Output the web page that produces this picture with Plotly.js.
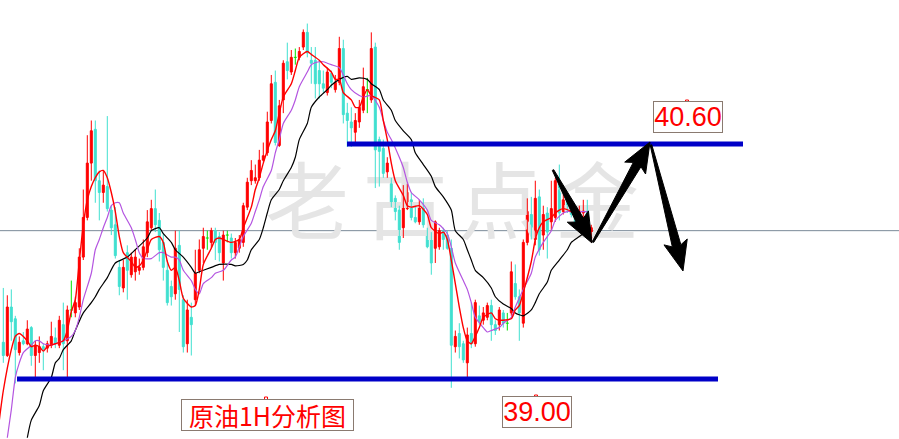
<!DOCTYPE html>
<html>
<head>
<meta charset="utf-8">
<script src="https://cdn.plot.ly/plotly-3.0.1.min.js"></script>
<style>
  html, body { margin: 0; padding: 0; background: #ffffff; }
  #chart { width: 899px; height: 439px; }
</style>
</head>
<body>
<div id="chart"></div>
<script>
// Crude oil, 1-hour bars
const open = [
  39.25,39.16,39.49,39.41,39.18,39.26,39.24,39.35,39.16,39.18,
  39.22,39.21,39.23,39.28,39.23,39.37,39.26,39.47,39.45,39.49,
  39.83,40.10,40.47,40.70,40.35,40.27,40.31,40.15,40.05,39.76,
  39.62,39.86,39.71,39.73,39.74,39.76,39.86,40.03,40.16,40.08,
  39.93,39.74,39.63,39.58,39.91,39.54,39.24,39.42,39.54,39.74,
  39.89,39.96,39.93,40.01,39.97,39.79,39.98,39.96,39.86,39.89,
  39.93,40.17,40.35,40.35,40.37,40.49,40.54,40.76,41.02,40.59,
  40.90,41.16,41.09,41.19,41.19,41.26,41.36,41.17,41.17,41.10,
  41.01,40.95,41.08,40.97,41.02,41.25,40.81,40.75,40.68,40.75,
  40.83,40.97,40.90,41.26,40.63,40.57,40.41,40.33,40.23,40.15,
  40.03,40.16,40.22,40.10,40.07,40.20,39.98,39.98,39.89,39.90,
  40.01,39.98,39.89,39.22,39.31,39.24,39.11,39.31,39.24,39.43,
  39.40,39.42,39.50,39.37,39.37,39.45,39.38,39.45,39.65,39.56,
  39.38,39.93,40.12,39.95,40.24,39.98,40.13,40.07,40.10,40.33,
  40.14,40.22,40.18,40.14,40.08,40.13,40.18,39.96
];
const high = [
  39.62,39.57,39.61,39.43,39.29,39.32,39.40,39.36,39.26,39.29,
  39.24,39.26,39.39,39.35,39.43,39.52,39.50,39.67,39.56,39.89,
  40.29,40.66,40.76,40.76,40.42,40.42,40.79,40.18,40.17,39.81,
  39.81,39.91,39.86,39.88,39.82,39.95,40.15,40.22,40.29,40.13,
  39.99,39.81,39.67,40.01,40.01,39.57,39.54,39.52,39.88,39.95,
  40.03,40.01,40.03,40.03,40.00,40.01,40.01,39.99,39.96,39.98,
  40.20,40.37,40.49,40.46,40.56,40.61,40.82,41.07,41.10,40.90,
  41.17,41.29,41.24,41.25,41.26,41.38,41.42,41.26,41.26,41.17,
  41.10,41.12,41.10,41.07,41.33,41.31,40.88,40.85,40.81,40.90,
  41.12,41.05,41.36,41.29,40.65,40.63,40.51,40.37,40.25,40.18,
  40.32,40.33,40.27,40.18,40.22,40.23,40.03,40.00,40.08,40.03,
  40.03,40.01,39.95,39.33,39.38,39.26,39.35,39.52,39.54,39.50,
  39.49,39.52,39.54,39.40,39.49,39.47,39.45,39.80,39.78,39.61,
  39.95,40.23,40.24,40.35,40.29,40.18,40.17,40.35,40.37,40.46,
  40.27,40.25,40.22,40.16,40.18,40.22,40.22,40.05
];
const low = [
  39.11,39.15,39.26,38.97,39.16,39.23,39.23,39.09,38.99,39.11,
  39.06,39.18,39.21,39.21,39.21,39.06,39.01,39.42,39.42,39.47,
  39.81,40.08,40.35,40.20,40.08,40.20,40.14,39.98,39.82,39.57,
  39.59,39.54,39.69,39.67,39.71,39.74,39.83,40.01,40.00,39.80,
  39.67,39.50,39.50,39.54,39.32,39.18,39.18,39.16,39.50,39.72,
  39.79,39.88,39.89,39.81,39.80,39.67,39.93,39.82,39.82,39.86,
  39.90,40.15,40.32,40.33,40.35,40.48,40.52,40.74,40.59,40.58,
  40.81,41.04,41.07,41.14,41.17,41.24,41.19,41.01,40.91,40.91,
  40.95,40.93,40.98,40.95,41.00,40.74,40.58,40.58,40.61,40.71,
  40.81,40.81,40.88,40.30,40.31,40.37,40.37,40.17,40.08,39.88,
  39.96,40.15,40.08,40.06,40.05,40.03,39.89,39.71,39.79,39.88,
  39.88,39.88,38.94,39.18,39.14,39.11,39.01,39.21,39.22,39.37,
  39.37,39.40,39.26,39.30,39.33,39.35,39.33,39.43,39.54,39.26,
  39.35,39.91,39.95,39.91,39.84,39.88,39.82,40.01,40.07,40.08,
  40.12,40.13,40.10,40.05,40.06,40.03,39.98,39.93
];
const close = [
  39.16,39.49,39.39,39.20,39.25,39.24,39.34,39.16,39.23,39.22,
  39.20,39.24,39.29,39.24,39.40,39.24,39.47,39.47,39.52,39.83,
  40.10,40.47,40.69,40.35,40.27,40.32,40.16,40.03,39.84,39.63,
  39.76,39.74,39.83,39.83,39.76,39.90,40.07,40.16,40.05,39.88,
  39.76,39.52,39.56,39.89,39.61,39.22,39.47,39.37,39.72,39.88,
  39.97,39.96,40.01,39.93,39.86,39.98,39.98,39.86,39.93,39.95,
  40.18,40.34,40.42,40.37,40.49,40.52,40.75,41.01,40.61,40.86,
  41.15,41.10,41.19,41.19,41.23,41.36,41.22,41.15,41.01,41.01,
  40.98,41.09,41.02,41.02,41.25,40.80,40.76,40.71,40.76,40.85,
  40.99,40.97,41.25,40.56,40.55,40.40,40.47,40.20,40.14,39.93,
  40.27,40.27,40.10,40.07,40.18,40.05,39.90,39.79,40.07,40.01,
  39.95,39.89,39.23,39.29,39.22,39.13,39.30,39.24,39.52,39.39,
  39.45,39.50,39.37,39.33,39.47,39.38,39.38,39.73,39.56,39.45,
  39.93,40.14,40.03,40.23,39.88,40.12,40.00,40.16,40.35,40.13,
  40.22,40.15,40.12,40.07,40.15,40.17,40.01,40.03
];

// Moving averages, sampled at bar indices
const maFastX = [-1,0,2,3,4,6,7,8,9,10,11,13,15,16,17,18,19,20,21,22,23,24,25,26,27,28,29,30,32,33,34,35,36,37,39,40,41,42,43,44,45,47,48,49,50,52,53,54,57,59,60,62,63,64,65,67,68,69,70,72,73,74,76,77,79,80,82,83,84,85,87,88,89,90,91,92,94,95,96,97,98,100,101,102,104,106,107,109,110,111,112,113,114,115,116,117,118,119,120,122,123,124,127,128,129,130,132,133,134,135,137,138,139,140,142,143,144,145,146];
const maFastY = [38.72,38.92,39.20,39.29,39.31,39.26,39.22,39.23,39.22,39.19,39.22,39.24,39.26,39.33,39.46,39.54,39.80,40.05,40.22,40.31,40.37,40.41,40.42,40.37,40.27,40.14,39.97,39.86,39.80,39.76,39.77,39.81,39.88,39.95,39.97,39.93,39.80,39.74,39.76,39.67,39.55,39.49,39.50,39.61,39.78,39.89,39.95,39.96,39.93,39.95,40.03,40.17,40.29,40.37,40.47,40.63,40.69,40.81,40.92,41.01,41.10,41.19,41.23,41.21,41.17,41.14,41.09,41.04,41.04,40.95,40.90,40.85,40.85,40.92,40.97,40.93,40.90,40.76,40.63,40.47,40.35,40.25,40.18,40.17,40.18,40.12,40.03,39.99,40.00,39.95,39.81,39.65,39.49,39.35,39.26,39.24,39.29,39.35,39.42,39.45,39.41,39.40,39.41,39.47,39.50,39.59,39.80,39.95,40.03,40.07,40.10,40.13,40.15,40.16,40.14,40.12,40.10,40.07,40.05];

const maMidX = [1,2,3,4,5,7,8,9,10,12,13,14,15,17,18,19,20,22,23,24,25,26,27,28,29,30,32,33,34,35,37,38,39,40,42,43,44,45,47,48,49,50,52,53,55,57,58,59,60,62,63,64,65,67,68,69,70,72,73,74,76,77,79,80,81,82,84,85,86,87,89,90,92,94,95,96,97,99,100,101,102,104,106,107,109,111,112,113,115,116,117,118,120,121,122,124,125,127,128,130,132,133,135,137,138,140,141,142,144,146];
const maMidY = [38.60,38.79,39.01,39.11,39.18,39.23,39.26,39.26,39.24,39.23,39.24,39.25,39.26,39.29,39.33,39.42,39.54,39.72,39.88,39.95,40.03,40.10,40.18,40.20,40.20,40.13,40.03,39.95,39.86,39.82,39.82,39.84,39.86,39.86,39.83,39.83,39.81,39.74,39.67,39.61,39.58,39.65,39.69,39.72,39.74,39.81,39.83,39.90,39.97,40.06,40.14,40.22,40.31,40.42,40.54,40.63,40.74,40.83,40.90,40.99,41.09,41.14,41.16,41.16,41.15,41.14,41.12,41.07,41.01,40.97,40.93,40.92,40.93,40.85,40.76,40.68,40.63,40.51,40.44,40.34,40.27,40.22,40.15,40.08,40.05,39.99,39.90,39.79,39.67,39.61,39.52,39.42,39.35,39.32,39.33,39.35,39.38,39.42,39.49,39.61,39.72,39.83,39.93,40.01,40.08,40.13,40.14,40.14,40.14,40.14];

const maSlowX = [6,7,9,10,12,13,14,15,17,18,20,22,23,24,26,28,31,33,36,37,39,40,42,43,45,47,48,49,52,54,57,58,60,61,62,64,65,66,67,69,70,72,73,74,76,77,79,81,82,84,86,87,89,91,92,94,95,97,98,100,102,103,105,107,108,110,112,113,115,116,117,118,120,122,123,125,127,128,130,132,133,134,136,137,139,141,142,144,146];
const maSlowY = [38.60,38.72,38.82,38.92,39.01,39.11,39.14,39.20,39.26,39.33,39.45,39.52,39.56,39.61,39.69,39.79,39.83,39.88,39.96,40.01,40.03,39.99,39.93,39.88,39.83,39.76,39.72,39.73,39.76,39.78,39.78,39.77,39.78,39.81,39.88,39.95,40.03,40.13,40.22,40.29,40.35,40.44,40.51,40.63,40.74,40.85,40.92,40.97,41.00,41.04,41.06,41.04,41.05,41.04,41.01,40.97,40.90,40.83,40.76,40.69,40.63,40.54,40.46,40.38,40.31,40.24,40.15,40.01,39.95,39.88,39.81,39.74,39.69,39.62,39.56,39.51,39.48,39.45,39.43,39.47,39.52,39.58,39.66,39.74,39.81,39.88,39.93,39.97,40.01];

// Price levels marked on the chart
const levels = [40.60, 39.00];
const lastPrice = 40.01;
const chartTitle = '原油1H分析图';
const watermark = ['老', '古', '点', '金'];

// ---- layout geometry ----
const W = 899, H = 439;
const xRange = [-0.825, 223.925];   // 4 px per bar
const yRange = [38.5915, 41.5804];
const px = x => x / W;
const py = y => 1 - y / H;
const dataX = x => xRange[0] + x / W * (xRange[1] - xRange[0]);
const dataY = y => yRange[1] - y / H * (yRange[1] - yRange[0]);

const UP = '#ff0000', DOWN = '#40e0d0', FLAT = '#00e000';
const BODY_W = 0.5;   // body width in bar units (outline adds 1px)

// Split bars into rising, falling and unchanged groups
const groups = { up: [], down: [], flat: [] };
open.forEach((o, i) => {
  const c = close[i];
  if (c > o) groups.up.push(i);
  else if (c < o) groups.down.push(i);
  else groups.flat.push(i);
});

function wickTrace(ids, color) {
  const x = [], y = [];
  ids.forEach(i => { x.push(i, i, null); y.push(low[i], high[i], null); });
  return { type: 'scatter', mode: 'lines', x, y, line: { color, width: 1 }, hoverinfo: 'skip' };
}
function bodyTrace(ids, color) {
  return {
    type: 'bar', x: ids,
    base: ids.map(i => Math.min(open[i], close[i])),
    y: ids.map(i => Math.abs(close[i] - open[i])),
    width: BODY_W,
    marker: { color, line: { color, width: 1 } },
    hoverinfo: 'skip'
  };
}
function flatTrace(ids, color) {
  const x = [], y = [];
  ids.forEach(i => { x.push(i - 0.375, i + 0.375, null); y.push(open[i], open[i], null); });
  return { type: 'scatter', mode: 'lines', x, y, line: { color, width: 1 }, hoverinfo: 'skip' };
}

// Filled arrow polygon in pixel space, returned as a paper-space path
function arrowPath(tx, ty, hx, hy, headLen, headHalf, barb, shaftTail, shaftHead) {
  const dx = hx - tx, dy = hy - ty, L = Math.hypot(dx, dy);
  const ux = dx / L, uy = dy / L, nx = -uy, ny = ux;
  const bx = hx - ux * headLen, by = hy - uy * headLen;
  const wx = bx - ux * barb, wy = by - uy * barb;
  const pts = [
    [tx + nx * shaftTail, ty + ny * shaftTail],
    [bx + nx * shaftHead, by + ny * shaftHead],
    [wx + nx * headHalf, wy + ny * headHalf],
    [hx, hy],
    [wx - nx * headHalf, wy - ny * headHalf],
    [bx - nx * shaftHead, by - ny * shaftHead],
    [tx - nx * shaftTail, ty - ny * shaftTail]
  ];
  return 'M ' + pts.map(p => px(p[0]).toFixed(5) + ',' + py(p[1]).toFixed(5)).join(' L ') + ' Z';
}

function tick(x, y) {
  return {
    type: 'path', xref: 'paper', yref: 'paper',
    path: `M ${px(x - 1.5)},${py(y + 2)} L ${px(x - 1.5)},${py(y)} L ${px(x + 1.5)},${py(y)} L ${px(x + 1.5)},${py(y + 2)}`,
    line: { color: '#ff0000', width: 1 }
  };
}

const arrowStyle = { fillcolor: '#000000', line: { color: '#000000', width: 1 } };
const wmPos = [[307, 212], [405, 212], [500, 212], [597, 212]];

const traces = [
  {
    type: 'scatter', mode: 'text',
    x: wmPos.map(p => dataX(p[0])), y: wmPos.map(p => dataY(p[1])),
    text: watermark,
    textfont: { family: 'Noto Sans CJK SC', size: 84, color: '#e5e5e5' },
    hoverinfo: 'skip'
  },
  wickTrace(groups.down, DOWN),
  wickTrace(groups.up, UP),
  wickTrace(groups.flat, FLAT),
  bodyTrace(groups.down, DOWN),
  bodyTrace(groups.up, UP),
  flatTrace(groups.flat, FLAT),
  { type: 'scatter', mode: 'lines', x: maSlowX, y: maSlowY,
    line: { color: '#000000', width: 1.2, shape: 'spline', smoothing: 0.6 }, hoverinfo: 'skip' },
  { type: 'scatter', mode: 'lines', x: maMidX, y: maMidY,
    line: { color: '#b455e0', width: 1.2, shape: 'spline', smoothing: 0.6 }, hoverinfo: 'skip' },
  { type: 'scatter', mode: 'lines', x: maFastX, y: maFastY,
    line: { color: '#ff0000', width: 1.4, shape: 'spline', smoothing: 0.6 }, hoverinfo: 'skip' }
];

const labelFont = { family: 'Liberation Sans, Arial, sans-serif', size: 27, color: '#ff0000' };
const boxColor = '#8a7a70';

const layout = {
  width: W, height: H,
  margin: { l: 0, r: 0, t: 0, b: 0, pad: 0 },
  paper_bgcolor: '#ffffff', plot_bgcolor: '#ffffff',
  showlegend: false,
  barmode: 'overlay',
  xaxis: { range: xRange, visible: false, fixedrange: true },
  yaxis: { range: yRange, visible: false, fixedrange: true },
  shapes: [
    { type: 'line', layer: 'below', xref: 'paper', x0: 0, x1: 1, yref: 'y', y0: lastPrice, y1: lastPrice,
      line: { color: '#7b8a98', width: 1 } },
    { type: 'line', xref: 'paper', x0: px(347), x1: px(743), yref: 'y', y0: levels[0], y1: levels[0],
      line: { color: '#0000c8', width: 5 } },
    { type: 'line', xref: 'paper', x0: px(17), x1: px(718), yref: 'y', y0: levels[1], y1: levels[1],
      line: { color: '#0000c8', width: 5 } },
    Object.assign({ type: 'path', xref: 'paper', yref: 'paper',
      path: arrowPath(553, 170, 592, 243, 26, 12, 4, 0.8, 4.2) }, arrowStyle),
    Object.assign({ type: 'path', xref: 'paper', yref: 'paper',
      path: arrowPath(593, 242, 650, 142, 26, 12, 4, 0.8, 4.4) }, arrowStyle),
    Object.assign({ type: 'path', xref: 'paper', yref: 'paper',
      path: arrowPath(651, 145, 683, 271, 26, 12, 4, 0.8, 4.4) }, arrowStyle),
    tick(687, 100), tick(536, 395), tick(266, 397)
  ],
  annotations: [
    { xref: 'paper', yref: 'paper', x: px(687.5), y: py(117), xanchor: 'center', yanchor: 'middle',
      text: levels[0].toFixed(2), showarrow: false, font: labelFont,
      bordercolor: boxColor, borderwidth: 1, borderpad: 0, width: 68, height: 30 },
    { xref: 'paper', yref: 'paper', x: px(536.5), y: py(412), xanchor: 'center', yanchor: 'middle',
      text: levels[1].toFixed(2), showarrow: false, font: labelFont,
      bordercolor: boxColor, borderwidth: 1, borderpad: 0, width: 68, height: 30 },
    { xref: 'paper', yref: 'paper', x: px(267.5), y: py(414.5), xanchor: 'center', yanchor: 'middle',
      text: chartTitle, showarrow: false,
      font: { family: 'Noto Sans CJK SC', size: 25, color: '#ff0000' },
      bordercolor: boxColor, borderwidth: 1, borderpad: 0, width: 171, height: 30 }
  ]
};

Plotly.newPlot('chart', traces, layout, { staticPlot: true, displayModeBar: false });
</script>
</body>
</html>
